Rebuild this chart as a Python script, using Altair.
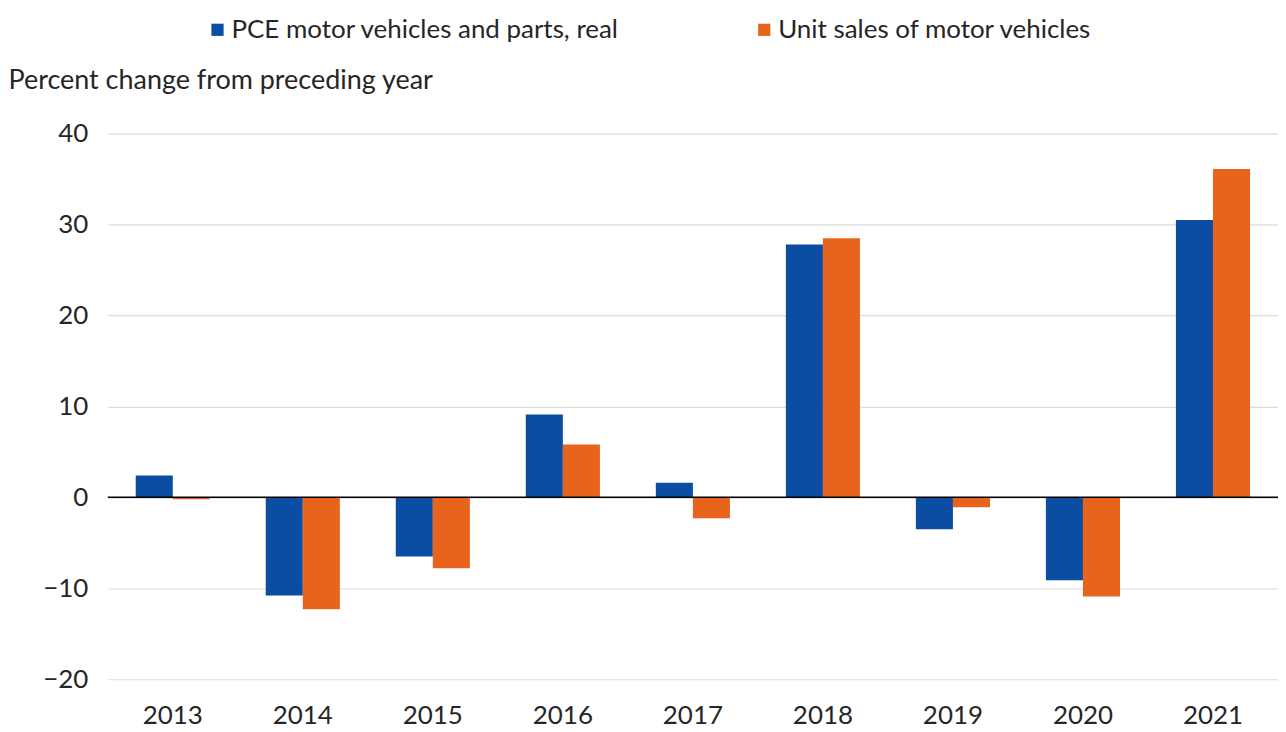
import altair as alt
import pandas as pd

years = ["2013", "2014", "2015", "2016", "2017", "2018", "2019", "2020", "2021"]
pce_real = [2.4, -10.8, -6.5, 9.1, 1.6, 27.8, -3.5, -9.1, 30.5]
unit_sales = [-0.2, -12.3, -7.8, 5.8, -2.3, 28.5, -1.1, -10.9, 36.1]
series_names = ["PCE motor vehicles and parts, real", "Unit sales of motor vehicles"]
series_colors = ["#0a4da2", "#e8641c"]
y_ticks = [-20, -10, 0, 10, 20, 30, 40]

rows = []
for i, yr in enumerate(years):
    rows.append({"year": yr, "series": series_names[0], "value": pce_real[i]})
    rows.append({"year": yr, "series": series_names[1], "value": unit_sales[i]})
df = pd.DataFrame(rows)

FONT = "Lato"
FS = 26
TXT = "#262626"

bars = alt.Chart(df).mark_bar().encode(
    x=alt.X("year:N", sort=years,
            scale=alt.Scale(paddingInner=0.43, paddingOuter=0.215),
            axis=alt.Axis(title=None, labelAngle=0, labelFontSize=FS, labelFont=FONT,
                          labelColor=TXT, ticks=False, domain=False,
                          labelPadding=23, grid=False)),
    xOffset=alt.XOffset("series:N", sort=series_names, scale=alt.Scale(paddingInner=0, paddingOuter=0)),
    y=alt.Y("value:Q", scale=alt.Scale(domain=[-20, 40], nice=False, zero=False),
            axis=alt.Axis(values=y_ticks, title="Percent change from preceding year",
                          titleAngle=0, titleAlign="left", titleBaseline="alphabetic",
                          titleX=-100, titleY=-45, titleFontSize=27, titleFont=FONT,
                          titleFontWeight="normal", titleColor=TXT,
                          labelFontSize=FS, labelFont=FONT, labelColor=TXT,
                          labelPadding=20, ticks=False, domain=False,
                          grid=True, gridColor="#dcdcdc", gridWidth=1.2)),
    color=alt.Color("series:N", sort=series_names,
                    scale=alt.Scale(domain=series_names, range=series_colors),
                    legend=alt.Legend(title=None, orient="none", legendX=97, legendY=-117,
                                      direction="horizontal", symbolType="square",
                                      symbolSize=150, symbolStrokeWidth=0,
                                      labelFontSize=26, labelFont=FONT, labelColor=TXT,
                                      labelLimit=1000, columnPadding=132, padding=0,
                                      labelOffset=1)),
)

zero_df = pd.DataFrame({"v": [0]})
zero = alt.Chart(zero_df).mark_rule(color="#000000", strokeWidth=1.5).encode(y="v:Q")

chart = alt.layer(bars, zero).properties(
    width=1173, height=547,
    autosize=alt.AutoSizeParams(type="none"),
    padding={"left": 100, "top": 125, "right": 0, "bottom": 50},
).configure_view(stroke=None)

chart.save("out.html", embed_options={"renderer": "svg", "actions": False})
